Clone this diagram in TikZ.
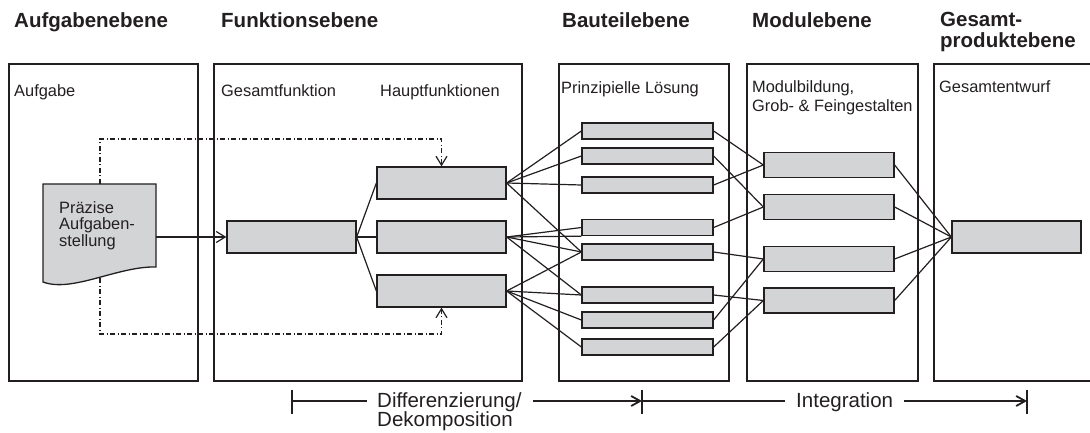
\documentclass[tikz,border=0pt]{standalone}
\usepackage{fontspec}
\setmainfont{Liberation Sans}
\usetikzlibrary{arrows.meta,calc}
\definecolor{ink}{HTML}{231F20}
\definecolor{boxgray}{HTML}{D3D4D6}

\begin{document}
\begin{tikzpicture}[x=1pt,y=-1pt,
  panel/.style={draw=ink,line width=1.4pt},
  blk/.style={draw=ink,fill=boxgray,line width=1.3pt,inner sep=0pt},
  widebox/.style={blk,minimum width=129pt,minimum height=32pt},
  partbox/.style={blk,minimum width=131pt,minimum height=16pt},
  modbox/.style={blk,minimum width=130pt,minimum height=25pt},
  hd/.style={font=\fontsize{20.5}{22}\selectfont\bfseries,text=ink,anchor=base west,inner sep=0pt},
  lbl/.style={font=\fontsize{16.4}{18}\selectfont,text=ink,anchor=base west,inner sep=0pt},
  big/.style={font=\fontsize{20.5}{22}\selectfont,text=ink,anchor=base west,inner sep=0pt},
  link/.style={draw=ink,line width=1.2pt},
  dashdot/.style={draw=ink,line width=1.2pt,dash pattern=on 5pt off 2.5pt on 1pt off 2.5pt},
  barb/.style={-{Straight Barb[length=9pt,width=11pt]}},
  span/.style={draw=ink,line width=1.8pt},
  tick/.style={draw=ink,line width=1.4pt}
]
\useasboundingbox (0,0) rectangle (1090,433);

% level headings
\node[hd] (h1) at (14,28) {Aufgabenebene};
\node[hd] (h2) at (221,28) {Funktionsebene};
\node[hd] (h3) at (562,28) {Bauteilebene};
\node[hd] (h4) at (752,28) {Modulebene};
\node[hd] (h5a) at (940,27) {Gesamt-};
\node[hd] (h5b) at (940,48) {produktebene};

% level panels
\draw[panel] (9,64) rectangle (198,381);
\draw[panel] (214,64) rectangle (522,381);
\draw[panel] (559,64) rectangle (729,381);
\draw[panel] (747,64) rectangle (918,381);
\draw[panel] (1092,64) -- (934,64) -- (934,381) -- (1092,381);

% panel captions
\node[lbl] (c1) at (14,97) {Aufgabe};
\node[lbl] (c2) at (221,97) {Gesamtfunktion};
\node[lbl] (c3) at (380,97) {Hauptfunktionen};
\node[lbl] (c4) at (561,94) {Prinzipielle Lösung};
\node[lbl] (c5a) at (752,93) {Modulbildung,};
\node[lbl] (c5b) at (752,112) {Grob- \& Feingestalten};
\node[lbl] (c6) at (939,93) {Gesamtentwurf};

% task document
\filldraw[fill=boxgray,draw=ink,line width=1.3pt]
  (43,282) -- (43,184) -- (156,184) -- (156,267)
  .. controls (118,266) and (72,293) .. (43,282) -- cycle;
\coordinate (docR) at (156,237);
\coordinate (docT) at (100,184);
\coordinate (docB) at (100,278);
\node[lbl] (d1) at (59,213) {Präzise};
\node[lbl] (d2) at (59,229.5) {Aufgaben-};
\node[lbl] (d3) at (59,246) {stellung};

% function level
\node[widebox] (gf) at (291.5,237) {};
\node[widebox] (hf1) at (441.5,183) {};
\node[widebox] (hf2) at (441.5,237) {};
\node[widebox] (hf3) at (441.5,291) {};

% component level
\foreach \i/\y in {1/131,2/156,3/185,4/227.5,5/252,6/295,7/320,8/347}
  \node[partbox] (bt\i) at (647.5,\y) {};

% module level
\foreach \i/\y in {1/165,2/207,3/259,4/300.5}
  \node[modbox] (md\i) at (829,\y) {};

% overall product
\node[widebox] (gp) at (1016.5,237) {};

% task to overall function
\draw[link,barb] (docR) -- (gf.west);
\draw[dashdot,barb] (docT) -- ++(0,-45) -| (hf1.north);
\draw[dashdot,barb] (docB) -- (100,334) -| (hf3.south);

% decomposition into main functions
\foreach \k in {1,2,3}
  \draw[link] (gf.east) -- (hf\k.west);

% main functions to components
\foreach \k in {1,2,3,5}
  \draw[link] (hf1.east) -- (bt\k.west);
\foreach \k in {4,5,6}
  \draw[link] (hf2.east) -- (bt\k.west);
\draw[link] (hf2.east) -- (bt4.south west);
\foreach \k in {5,6,7,8}
  \draw[link] (hf3.east) -- (bt\k.west);

% components to modules
\foreach \a/\b in {1/1,3/1,2/2,4/2,5/3,7/3,6/4,8/4}
  \draw[link] (bt\a.east) -- (md\b.west);

% modules to overall product
\foreach \k in {1,2,3,4}
  \draw[link] (md\k.east) -- (gp.west);

% phase arrows
\coordinate (dstart) at (292,401);
\coordinate (dgap) at (367,401);
\coordinate (dresume) at (533,401);
\coordinate (split) at (642,401);
\coordinate (igap) at (785,401);
\coordinate (iresume) at (904,401);
\coordinate (iend) at (1027,401);
\foreach \c in {dstart,split,iend}
  \draw[tick] ($(\c)+(0,-11.5)$) -- ($(\c)+(0,13)$);
\draw[span] (dstart) -- (dgap);
\draw[span,-{Straight Barb[length=9pt,width=10pt]}] (dresume) -- (split);
\draw[span] (split) -- (igap);
\draw[span,-{Straight Barb[length=9pt,width=10pt]}] (iresume) -- (iend);
\node[big] (l1) at (377,407) {Differenzierung/};
\node[big] (l2) at (377,426) {Dekomposition};
\node[big] (l3) at (796,407) {Integration};
\end{tikzpicture}
\end{document}
